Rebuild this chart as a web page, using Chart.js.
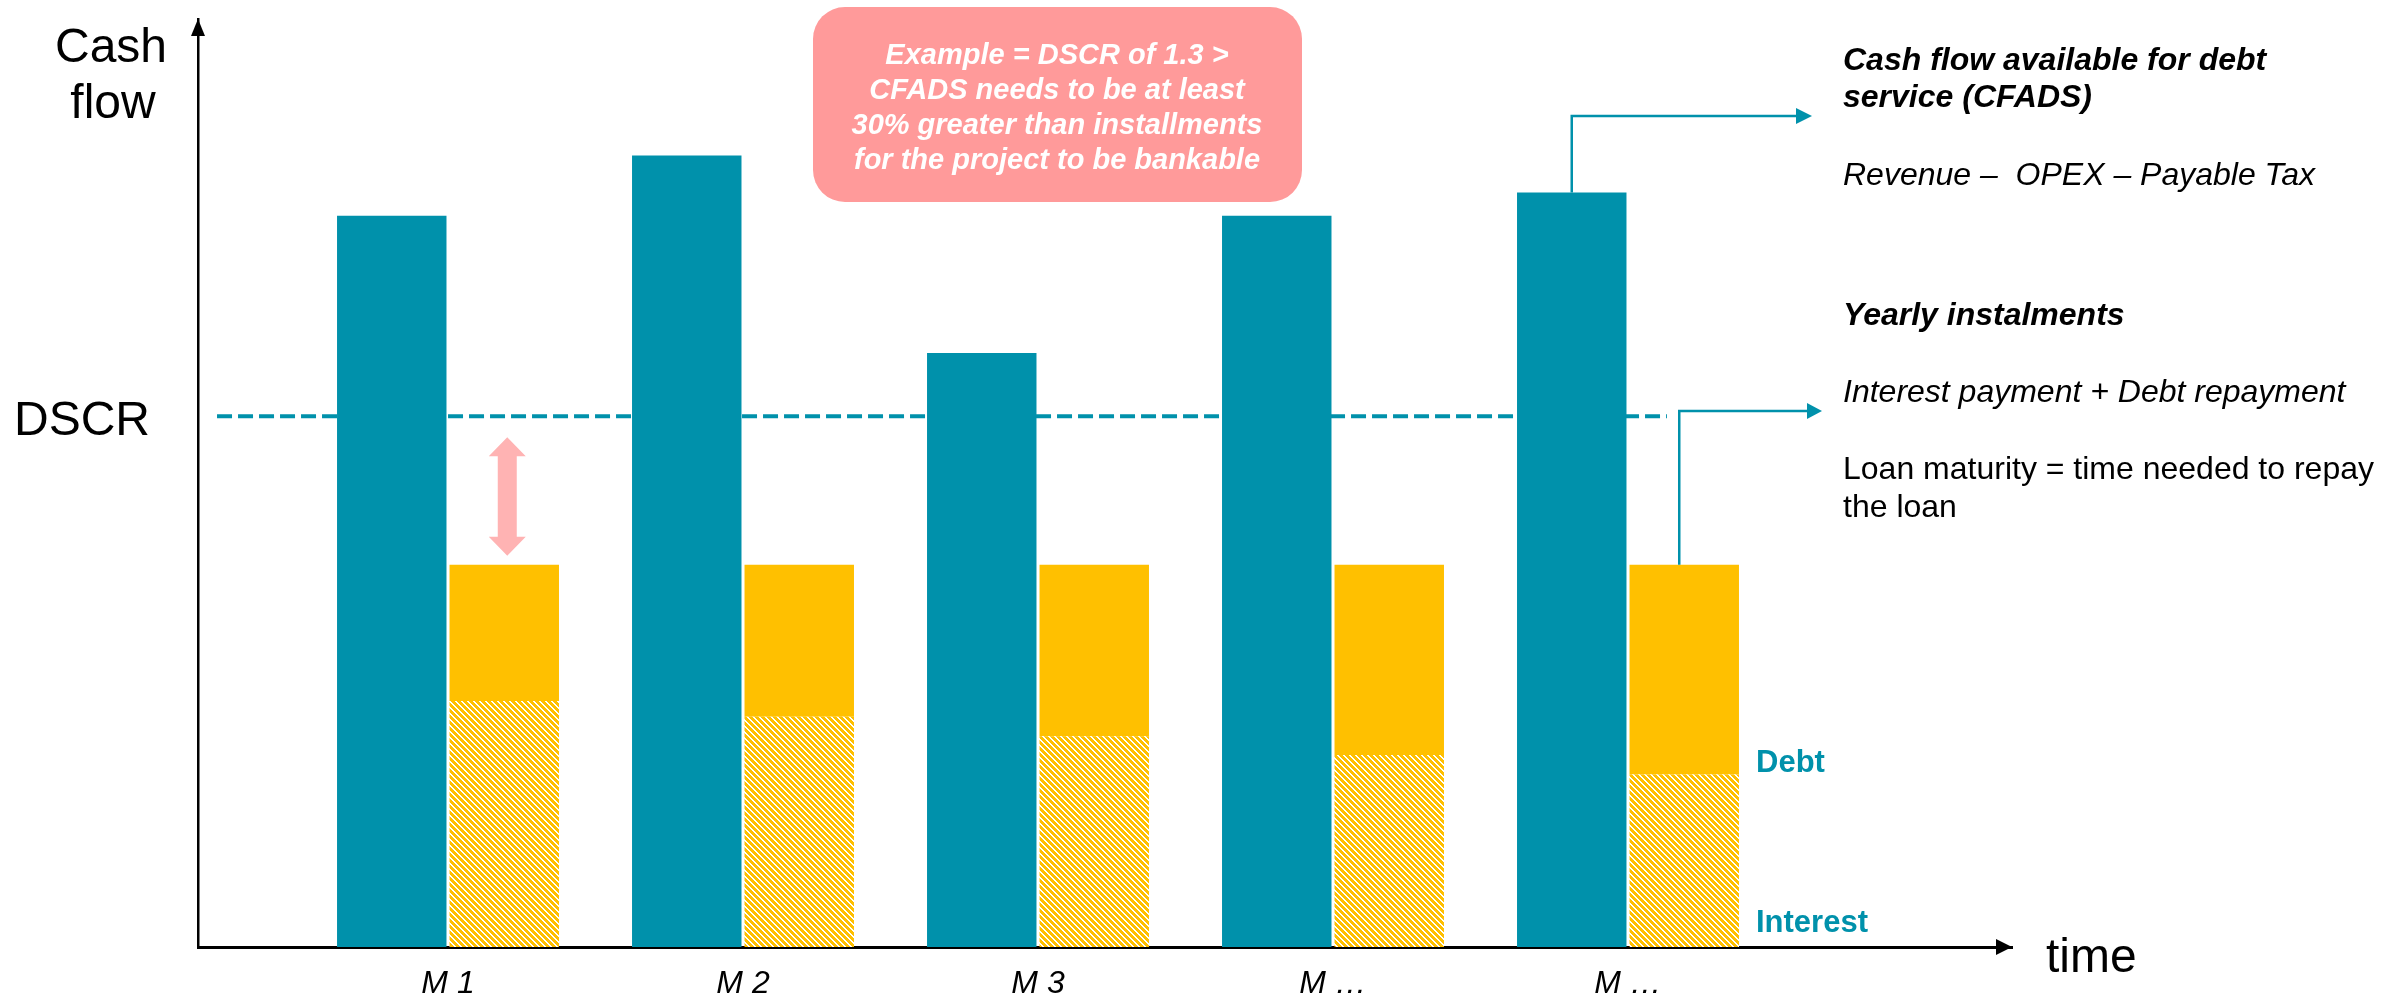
<!DOCTYPE html>
<html lang="en">
<head>
<meta charset="UTF-8">
<title>DSCR – CFADS vs instalments</title>
<script src="https://cdn.jsdelivr.net/npm/chart.js"></script>
<style>
  html, body { margin: 0; padding: 0; background: #fff; }
  #wrap { width: 2386px; height: 1001px; }
</style>
</head>
<body>
<div id="wrap"><canvas id="chart" width="2386" height="1001"></canvas></div>
<script>
// values (arbitrary units, axis 0..100)
const periods = ['M 1', 'M 2', 'M 3', 'M …', 'M …'];
const cfads = [78.8, 85.3, 64.0, 78.8, 81.3];
const interest = [26.5, 24.8, 22.7, 20.7, 18.6];
const debt = [14.7, 16.4, 18.5, 20.5, 22.6];
const dscrX = [0.217, 5.132];
const dscrY = [57.2, 57.2];

const TEAL = '#0091AB';
const GOLD = '#FFC000';
const FONT = '"Liberation Sans", Arial, sans-serif';

function hatchPattern() {
    const n = 6;
    const c = document.createElement('canvas');
    c.width = n; c.height = n;
    const g = c.getContext('2d');
    g.fillStyle = GOLD;
    g.fillRect(0, 0, n, n);
    g.fillStyle = '#fff';
    for (let yy = 0; yy < n; yy++) {
        for (let xx = 0; xx < n; xx++) {
            if ((((xx - yy) % n) + n) % n < 2) g.fillRect(xx, yy, 1, 1);
        }
    }
    return g.createPattern(c, 'repeat');
}

function arrowHead(ctx, tipX, tipY, dir, len, half) {
    ctx.beginPath();
    if (dir === 'right') {
        ctx.moveTo(tipX, tipY);
        ctx.lineTo(tipX - len, tipY - half);
        ctx.lineTo(tipX - len, tipY + half);
    } else {
        ctx.moveTo(tipX, tipY);
        ctx.lineTo(tipX - half, tipY + len);
        ctx.lineTo(tipX + half, tipY + len);
    }
    ctx.closePath();
    ctx.fill();
}

const overlay = {
    id: 'overlay',
    afterDraw(chart) {
        const { ctx, chartArea } = chart;
        const yScale = chart.scales.y;
        ctx.save();

        // axis arrowheads
        ctx.fillStyle = '#000';
        arrowHead(ctx, chartArea.left, chartArea.top, 'up', 17, 7);
        arrowHead(ctx, chartArea.right, chartArea.bottom, 'right', 16, 8);

        // connectors from last period
        const cfBar = chart.getDatasetMeta(0).data[4];
        const instBar = chart.getDatasetMeta(2).data[4];
        ctx.strokeStyle = TEAL;
        ctx.fillStyle = TEAL;
        ctx.lineWidth = 2.5;
        ctx.beginPath();
        ctx.moveTo(cfBar.x, cfBar.y);
        ctx.lineTo(cfBar.x, 116);
        ctx.lineTo(1798, 116);
        ctx.stroke();
        arrowHead(ctx, 1812, 116, 'right', 16, 8);
        const cx = instBar.x - 5;
        ctx.beginPath();
        ctx.moveTo(cx, instBar.y);
        ctx.lineTo(cx, 411);
        ctx.lineTo(1808, 411);
        ctx.stroke();
        arrowHead(ctx, 1822, 411, 'right', 15, 8);

        // pink double arrow between DSCR and first instalment
        const firstInst = chart.getDatasetMeta(2).data[0];
        const ax = firstInst.x + 3;
        const top = yScale.getPixelForValue(dscrY[0]) + 21;
        const bot = firstInst.y - 9;
        ctx.fillStyle = '#FFB3B3';
        ctx.beginPath();
        ctx.moveTo(ax, top);
        ctx.lineTo(ax + 18.5, top + 19);
        ctx.lineTo(ax + 9.5, top + 19);
        ctx.lineTo(ax + 9.5, bot - 19);
        ctx.lineTo(ax + 18.5, bot - 19);
        ctx.lineTo(ax, bot);
        ctx.lineTo(ax - 18.5, bot - 19);
        ctx.lineTo(ax - 9.5, bot - 19);
        ctx.lineTo(ax - 9.5, top + 19);
        ctx.lineTo(ax - 18.5, top + 19);
        ctx.closePath();
        ctx.fill();

        // callout box
        ctx.fillStyle = '#FF9A9A';
        ctx.beginPath();
        ctx.roundRect(813, 7, 489, 195, 32);
        ctx.fill();
        ctx.fillStyle = '#fff';
        ctx.textAlign = 'center';
        ctx.textBaseline = 'alphabetic';
        ctx.font = 'italic bold 29px ' + FONT;
        const boxLines = ['Example = DSCR of 1.3 >', 'CFADS needs to be at least',
            '30% greater than installments', 'for the project to be bankable'];
        boxLines.forEach((t, i) => ctx.fillText(t, 1057, 64 + i * 35));

        // axis titles
        ctx.fillStyle = '#000';
        ctx.font = '48px ' + FONT;
        ctx.fillText('Cash', 111, 62);
        ctx.fillText('flow', 113, 118);
        ctx.textAlign = 'left';
        ctx.fillText('DSCR', 14, 435);
        ctx.fillText('time', 2046, 972);

        // right-hand notes
        const notes = [
            ['Cash flow available for debt', 'italic bold 32px ', 70],
            ['service (CFADS)', 'italic bold 32px ', 107],
            ['Revenue \u2013  OPEX \u2013 Payable Tax', 'italic 32px ', 185],
            ['Yearly instalments', 'italic bold 32px ', 325],
            ['Interest payment + Debt repayment', 'italic 32px ', 402],
            ['Loan maturity = time needed to repay', '32px ', 479],
            ['the loan', '32px ', 517]
        ];
        notes.forEach(([t, f, by]) => {
            ctx.font = f + FONT;
            ctx.fillText(t, 1843, by);
        });

        // stack labels
        ctx.fillStyle = TEAL;
        ctx.font = 'bold 31px ' + FONT;
        ctx.fillText('Debt', 1756, 772);
        ctx.fillText('Interest', 1756, 932);

        ctx.restore();
    }
};

const xy = arr => arr.map((v, i) => ({ x: i + 1, y: v }));

new Chart(document.getElementById('chart'), {
    type: 'bar',
    data: {
        datasets: [
            { label: 'CFADS', data: xy(cfads), backgroundColor: TEAL, stack: 'cf', order: 1 },
            { label: 'Interest', data: xy(interest), backgroundColor: hatchPattern(), stack: 'inst', order: 1 },
            { label: 'Debt', data: xy(debt), backgroundColor: GOLD, stack: 'inst', order: 1 },
            {
                type: 'line', label: 'DSCR',
                data: dscrX.map((x, i) => ({ x: x, y: dscrY[i] })),
                borderColor: TEAL, borderWidth: 4, borderDash: [15, 6],
                pointRadius: 0, order: 5
            }
        ]
    },
    options: {
        responsive: false,
        animation: false,
        devicePixelRatio: 1,
        categoryPercentage: 0.7627,
        barPercentage: 0.973,
        layout: { padding: { left: 198, right: 374, top: 19, bottom: -20 } },
        plugins: { legend: { display: false }, tooltip: { enabled: false } },
        scales: {
            x: {
                type: 'linear', min: 0.1525, max: 6.3017, offset: false,
                grid: { display: false, drawTicks: false, offset: false },
                border: { display: true, color: '#000', width: 3 },
                afterBuildTicks: axis => { axis.ticks = periods.map((p, i) => ({ value: i + 1 })); },
                ticks: {
                    autoSkip: false, maxRotation: 0, padding: 21, color: '#000',
                    font: { family: FONT, size: 32, style: 'italic', lineHeight: 1 },
                    callback: (v, i) => periods[i]
                }
            },
            y: {
                min: 0, max: 100, stacked: true,
                grid: { display: false, drawTicks: false },
                ticks: { display: false },
                border: { display: true, color: '#000', width: 2.5 }
            }
        }
    },
    plugins: [overlay]
});
</script>
</body>
</html>
